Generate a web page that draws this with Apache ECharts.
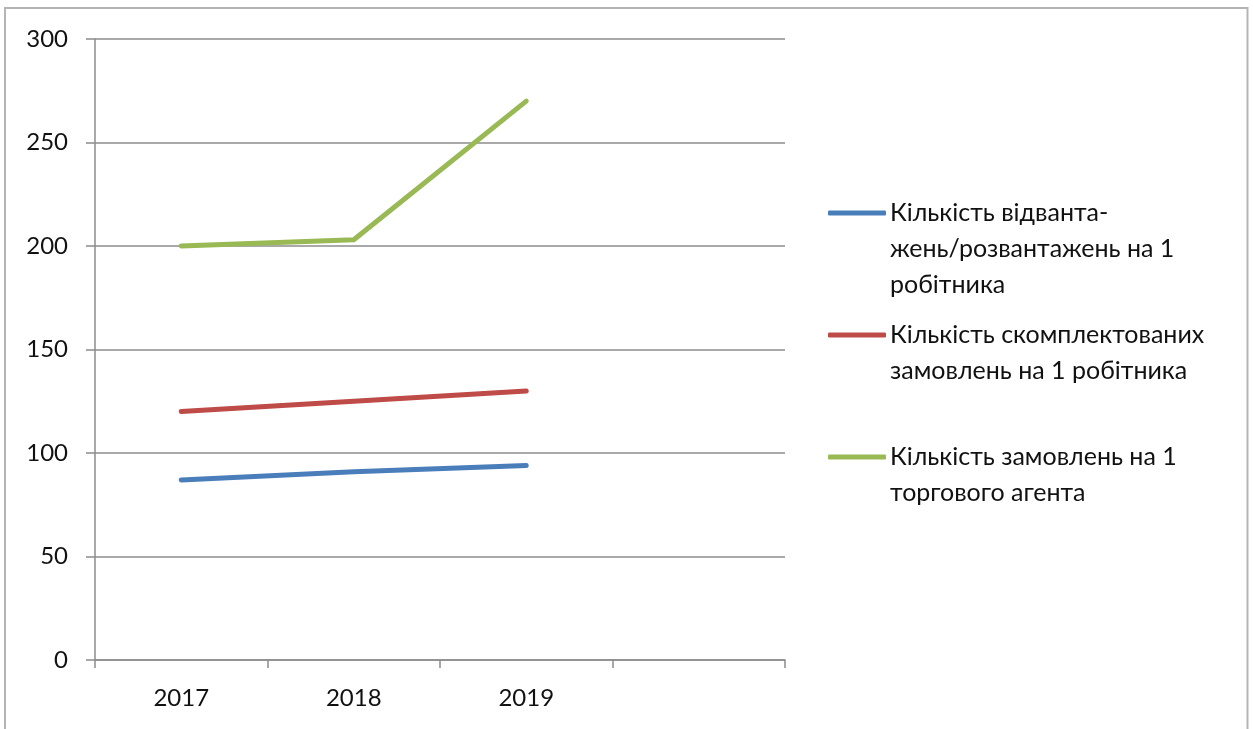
<!DOCTYPE html>
<html>
<head>
<meta charset="utf-8">
<title>Кількість операцій на 1 працівника</title>
<script src="https://cdn.jsdelivr.net/npm/echarts@6/dist/echarts.min.js"></script>
<style>
  html, body { margin: 0; padding: 0; background: #fff; }
  #chart { width: 1253px; height: 729px; }
</style>
</head>
<body>
<div id="chart"></div>
<script>
// Years on the category axis (the last slot is left empty)
const years = ['2017', '2018', '2019', ''];

// Series names
const nameShipments = 'Кількість відвантажень/розвантажень на 1 робітника';
const nameOrdersPicked = 'Кількість скомплектованих замовлень на 1 робітника';
const nameOrdersAgent = 'Кількість замовлень на 1 торгового агента';

// Values per year
const shipments = [87, 91, 94];
const ordersPicked = [120, 125, 130];
const ordersAgent = [200, 203, 270];

// Value axis ticks
const yMin = 0;
const yMax = 300;
const yStep = 50;

// Legend text, wrapped the way it is laid out beside the plot
const legendLines = {};
legendLines[nameShipments] = ['Кількість відванта-', 'жень/розвантажень на 1', 'робітника'];
legendLines[nameOrdersPicked] = ['Кількість скомплектованих', 'замовлень на 1 робітника'];
legendLines[nameOrdersAgent] = ['Кількість замовлень на 1', 'торгового агента'];

const FONT = 'Lato, "Open Sans", "Noto Sans", sans-serif';
const AXIS_GRAY = '#8c8c8c';
const TEXT = '#111111';
const LINE_H = 36;

// Blank lines placed before the text push the first line level with the icon
function legendText(name) {
  const lines = legendLines[name];
  const pad = new Array(lines.length - 1).fill('');
  return pad.concat(lines).join('\n');
}

function legendAt(name, iconY) {
  const n = legendLines[name].length;
  const blockH = (2 * n - 1) * LINE_H;
  return {
    data: [name],
    orient: 'vertical',
    left: 828,
    top: iconY - blockH / 2,
    padding: 0,
    icon: 'roundRect',
    itemWidth: 58,
    itemHeight: 5,
    itemGap: 0,
    selectedMode: false,
    formatter: legendText,
    textStyle: {
      fontFamily: FONT,
      fontSize: 25,
      color: TEXT,
      lineHeight: LINE_H,
      padding: [0, 0, 0, -1]
    }
  };
}

function lineSeries(name, values, color) {
  return {
    name: name,
    type: 'line',
    data: values,
    symbol: 'none',
    smooth: false,
    color: color,
    lineStyle: { color: color, width: 5, cap: 'round', join: 'round' },
    emphasis: { disabled: true }
  };
}

const chart = echarts.init(document.getElementById('chart'), null, { renderer: 'canvas' });

chart.setOption({
  backgroundColor: '#ffffff',
  animation: false,
  graphic: [{
    type: 'rect',
    silent: true,
    shape: { x: 5, y: 8, width: 1242.5, height: 740 },
    style: { fill: 'none', stroke: '#b4b4b4', lineWidth: 2 }
  }],
  grid: { left: 95, top: 39, right: 468, bottom: 69, containLabel: false },
  xAxis: {
    type: 'category',
    data: years,
    boundaryGap: true,
    axisLine: { show: true, lineStyle: { color: AXIS_GRAY, width: 1.5 } },
    axisTick: { show: true, length: 8, alignWithLabel: false, lineStyle: { color: AXIS_GRAY, width: 1.5 } },
    axisLabel: { fontFamily: FONT, fontSize: 24, color: TEXT, margin: 26 },
    splitLine: { show: false }
  },
  yAxis: {
    type: 'value',
    min: yMin,
    max: yMax,
    interval: yStep,
    axisLine: { show: true, lineStyle: { color: AXIS_GRAY, width: 1.5 } },
    axisTick: { show: true, length: 9, lineStyle: { color: AXIS_GRAY, width: 1.5 } },
    axisLabel: { fontFamily: FONT, fontSize: 24, color: TEXT, margin: 27 },
    splitLine: { show: true, lineStyle: { color: AXIS_GRAY, width: 1.5 } }
  },
  legend: [
    legendAt(nameShipments, 213),
    legendAt(nameOrdersPicked, 335),
    legendAt(nameOrdersAgent, 457)
  ],
  series: [
    lineSeries(nameShipments, shipments, '#4a7ebb'),
    lineSeries(nameOrdersPicked, ordersPicked, '#be4b48'),
    lineSeries(nameOrdersAgent, ordersAgent, '#98b954')
  ]
});
</script>
</body>
</html>
